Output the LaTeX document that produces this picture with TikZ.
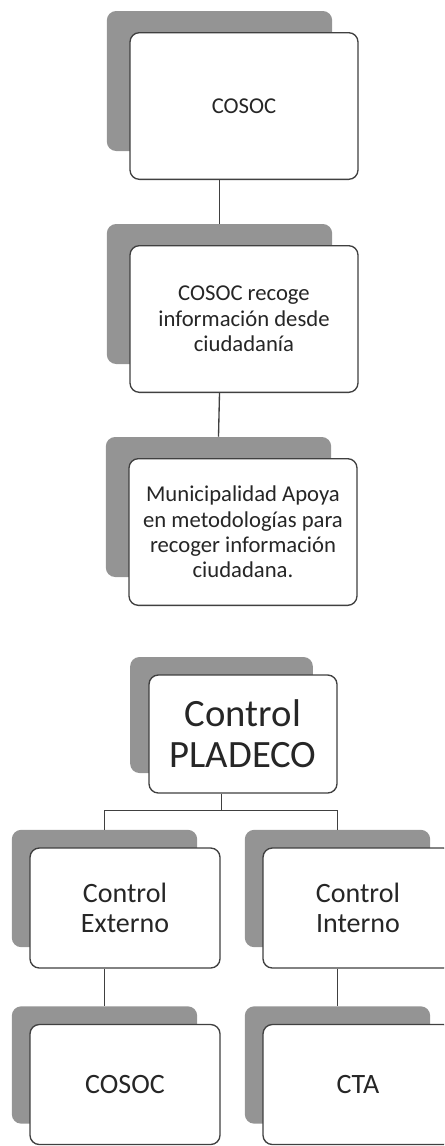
\documentclass[tikz,border=0pt]{standalone}
\usepackage{fontspec}
\setmainfont{Carlito}
\usepackage{tikz}
\usetikzlibrary{calc}

\begin{document}
\begin{tikzpicture}[x=0.75pt, y=-0.75pt,
        backbox/.style={fill=black!42, rounded corners=7pt, minimum width=169pt, minimum height=105pt, inner sep=0pt},
        frontbox/.style={draw=black!75, line width=1pt, fill=white, rounded corners=7pt, minimum width=171pt, minimum height=110pt, align=center, text=black!85, font=\fontsize{17}{19}\selectfont},
        ctlback/.style={backbox, minimum width=139pt, minimum height=88pt},
        ctlfront/.style={frontbox, minimum width=142.5pt, minimum height=90pt, font=\fontsize{21}{23}\selectfont},
        link/.style={draw=black!75, line width=1pt}]

        % Fix the page
        \clip (0,0) rectangle (444,1146);

        % First chain
        \node[backbox] (b1) at (219.5,81) {};
        \node[frontbox] (f1) at ([shift={(24.5,25)}]b1.center) {COSOC};

        \node[backbox] (b2) at (219.5,294) {};
        \node[frontbox] (f2) at ([shift={(24.5,25)}]b2.center) {COSOC recoge\\información desde\\ciudadanía};

        \node[backbox] (b3) at (218.5,507) {};
        \node[frontbox] (f3) at ([shift={(24.5,25)}]b3.center) {Municipalidad Apoya\\en metodologías para\\recoger información\\ciudadana.};

        \draw[link] (b1 |- f1.south) -- (b2.north);
        \draw[link] (b2 |- f2.south) -- (b3.north);

        % Control PLADECO
        \node[ctlback, minimum width=137pt, minimum height=87pt] (bp) at (221.5,715) {};
        \node[ctlfront, minimum width=141pt, minimum height=88.5pt, font=\fontsize{29}{31}\selectfont] (fp) at ([shift={(21.5,19)}]bp.center) {Control\\PLADECO};

        % Second level
        \node[ctlback] (bl) at (104.5,888.5) {};
        \node[ctlfront] (fl) at ([shift={(20.5,19.5)}]bl.center) {Control\\Externo};

        \node[ctlback] (br) at (337.5,888.5) {};
        \node[ctlfront] (fr) at ([shift={(20.5,19.5)}]br.center) {Control\\Interno};

        % Third level
        \node[ctlback] (bl2) at (104.5,1065) {};
        \node[ctlfront] (fl2) at ([shift={(20.5,19.5)}]bl2.center) {COSOC};

        \node[ctlback] (br2) at (337.5,1065) {};
        \node[ctlfront] (fr2) at ([shift={(20.5,19.5)}]br2.center) {CTA};

        % Connectors
        \draw[link] (bp |- fp.south) -- +(0,17) -| (bl.north);
        \draw[link] (bp |- fp.south) -- +(0,17) -| (br.north);
        \draw[link] (bl |- fl.south) -- (bl2.north);
        \draw[link] (br |- fr.south) -- (br2.north);

\end{tikzpicture}
\end{document}
